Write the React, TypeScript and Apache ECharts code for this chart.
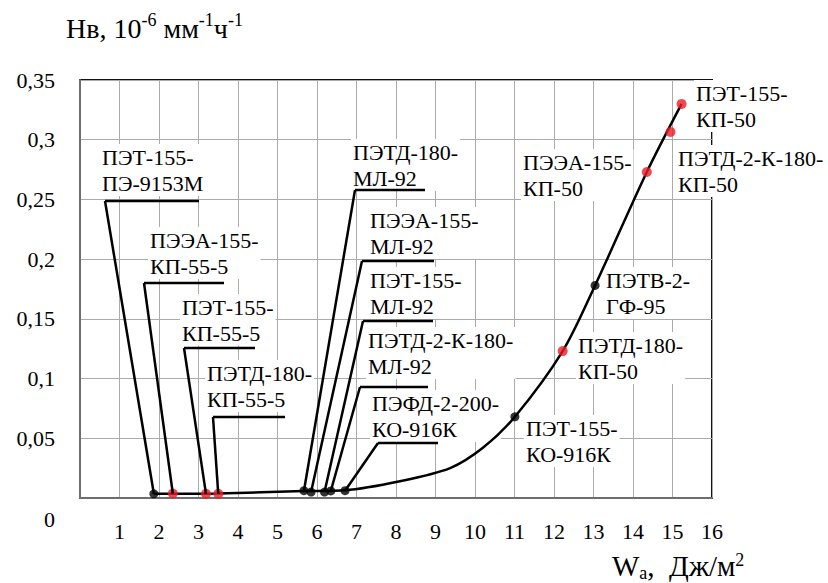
import React, { useEffect, useRef } from "react";
import * as echarts from "echarts";

const FONT = "Liberation Serif, serif";

// Smooth trend curve
const curveX = [1.87, 3.5, 5.67, 6.71, 8.1, 9.37, 10.2, 11.01, 12.22, 13.04, 14.35, 15.23];
const curveY = [0.0035, 0.0038, 0.0058, 0.0065, 0.014, 0.025, 0.042, 0.068, 0.123, 0.178, 0.273, 0.33];

// Black points
const blackX = [1.87, 5.67, 5.85, 6.19, 6.35, 6.71, 11.01, 13.04];
const blackY = [0.0035, 0.0061, 0.005, 0.005, 0.0059, 0.0061, 0.068, 0.178];

// Red points
const redX = [2.35, 3.19, 3.5, 12.22, 14.35, 14.95, 15.23];
const redY = [0.0038, 0.0035, 0.0035, 0.123, 0.273, 0.3065, 0.33];

const xTickMin = 0;
const xTickMax = 16;
const yTickMin = 0;
const yTickMax = 0.35;
const yStep = 0.05;

// Annotation texts, with the point they refer to (series, index)
const leaderLabels: { lines: string[]; set: "b" | "r"; idx: number }[] = [
  { lines: ["ПЭТ-155-", "ПЭ-9153М"], set: "b", idx: 0 },
  { lines: ["ПЭЭА-155-", "КП-55-5"], set: "r", idx: 0 },
  { lines: ["ПЭТ-155-", "КП-55-5"], set: "r", idx: 1 },
  { lines: ["ПЭТД-180-", "КП-55-5"], set: "r", idx: 2 },
  { lines: ["ПЭТД-180-", "МЛ-92"], set: "b", idx: 1 },
  { lines: ["ПЭЭА-155-", "МЛ-92"], set: "b", idx: 2 },
  { lines: ["ПЭТ-155-", "МЛ-92"], set: "b", idx: 3 },
  { lines: ["ПЭТД-2-К-180-", "МЛ-92"], set: "b", idx: 4 },
  { lines: ["ПЭФД-2-200-", "КО-916К"], set: "b", idx: 5 },
];
// layout (pixels): text left, first line centre, underline left, underline y, underline length
const leaderLayout = [
  [102, 157, 105, 201, 94],
  [150, 240, 144, 283, 80],
  [182, 307, 184, 348, 71],
  [207, 373, 213, 417, 72],
  [353, 152, 355, 190, 70],
  [370, 220, 362, 261, 72],
  [370, 280, 363, 321, 70],
  [368, 340, 360, 387, 68],
  [372, 403, 378, 443, 60],
];

const plainLabels = [
  ["ПЭТ-155-", "КП-50"],
  ["ПЭТД-2-К-180-", "КП-50"],
  ["ПЭЭА-155-", "КП-50"],
  ["ПЭТВ-2-", "ГФ-95"],
  ["ПЭТД-180-", "КП-50"],
  ["ПЭТ-155-", "КО-916К"],
];
const plainLayout = [
  [696, 93],
  [678, 158],
  [523, 162],
  [606, 280],
  [578, 345],
  [526, 428],
];

export default function App() {
  const ref = useRef<HTMLDivElement>(null);
  useEffect(() => {
    const chart = echarts.init(ref.current!, null, { renderer: "svg" });
    const curve = curveX.map((x, i) => [x, curveY[i]]);
    const black = blackX.map((x, i) => [x, blackY[i]]);
    const red = redX.map((x, i) => [x, redY[i]]);
    chart.setOption({
      animation: false,
      backgroundColor: "#fff",
      textStyle: { fontFamily: FONT },
      grid: {
        left: 80,
        top: 80,
        right: 116,
        bottom: 85,
        show: true,
        borderColor: "#111",
        borderWidth: 2,
        backgroundColor: "transparent",
      },
      xAxis: {
        type: "value",
        min: xTickMin,
        max: xTickMax,
        interval: 1,
        splitLine: { show: true, lineStyle: { color: "#ababab", width: 1 } },
        axisLine: { show: true, onZero: false, lineStyle: { color: "#6e6e6e", width: 2 } },
        axisTick: { show: false },
        axisLabel: {
          margin: 22,
          fontSize: 22,
          fontFamily: FONT,
          color: "#000",
          formatter: (v: number) => (v === 0 ? "" : String(v)),
        },
      },
      yAxis: {
        type: "value",
        min: yTickMin,
        max: yTickMax,
        interval: yStep,
        splitLine: { show: true, lineStyle: { color: "#ababab", width: 1 } },
        axisLine: { show: true, onZero: false, lineStyle: { color: "#6e6e6e", width: 2 } },
        axisTick: { show: false },
        axisLabel: {
          margin: 25,
          fontSize: 22,
          fontFamily: FONT,
          color: "#000",
          formatter: (v: number) =>
            v === 0 ? "" : String(Number(v.toFixed(2))).replace(".", ","),
        },
      },
      series: [
        {
          type: "line",
          data: curve,
          smooth: 0.3,
          showSymbol: false,
          lineStyle: { color: "#000", width: 2.5 },
          z: 3,
        },
        {
          type: "scatter",
          data: black,
          symbolSize: 9,
          itemStyle: { color: "#000" },
          z: 4,
        },
        {
          type: "scatter",
          data: red,
          symbolSize: 10,
          itemStyle: { color: "#ee1c25" },
          z: 5,
        },
      ],
    });

    const toPx = (p: number[]) => chart.convertToPixel({ gridIndex: 0 }, p) as number[];
    const LH = 26;
    const textEl = (lines: string[], x: number, yc: number) => ({
      type: "text",
      x: x - 2,
      y: yc - LH / 2,
      z: 1,
      style: {
        text: lines.join("\n"),
        fontSize: 22,
        fontFamily: FONT,
        lineHeight: LH,
        fill: "#000",
        backgroundColor: "#fff",
        padding: [0, 2],
        align: "left",
        verticalAlign: "top",
      },
    });
    const lineEl = (x1: number, y1: number, x2: number, y2: number) => ({
      type: "line",
      z: 21,
      shape: { x1, y1, x2, y2 },
      style: { stroke: "#000", lineWidth: 2.5 },
    });

    const graphics: any[] = [];
    leaderLabels.forEach((a, i) => {
      const [tx, ty, ux, uy, ul] = leaderLayout[i];
      const pt = toPx(a.set === "b" ? black[a.idx] : red[a.idx]);
      graphics.push(textEl(a.lines, tx, ty));
      graphics.push(lineEl(ux, uy, ux + ul, uy));
      graphics.push(lineEl(ux, uy, pt[0], pt[1]));
    });
    plainLabels.forEach((l, i) => {
      const [tx, ty] = plainLayout[i];
      graphics.push(textEl(l, tx, ty));
    });
    // zero label of the value axis, placed below the corner
    graphics.push({
      type: "text",
      x: 55,
      y: 519,
      z: 20,
      style: {
        text: "0",
        fontSize: 22,
        fontFamily: FONT,
        fill: "#000",
        align: "right",
        verticalAlign: "middle",
      },
    });
    // y-axis title
    graphics.push({
      type: "text",
      x: 66,
      y: 11,
      z: 20,
      style: {
        text: "{a|Нв, 10}{s|-6}{a| мм}{s|-1}{a|ч}{s|-1}",
        fill: "#000",
        fontFamily: FONT,
        align: "left",
        verticalAlign: "top",
        rich: {
          a: { fontSize: 28, fontFamily: FONT, lineHeight: 31, verticalAlign: "bottom", fill: "#000" },
          s: { fontSize: 18, fontFamily: FONT, lineHeight: 16, verticalAlign: "top", fill: "#000" },
        },
      },
    });
    // x-axis title
    graphics.push({
      type: "text",
      x: 612,
      y: 551,
      z: 20,
      style: {
        text: "{a|W}{b|a}{a|,  Дж/м}{s|2}",
        fill: "#000",
        fontFamily: FONT,
        align: "left",
        verticalAlign: "top",
        rich: {
          a: { fontSize: 29, fontFamily: FONT, lineHeight: 31, verticalAlign: "top", fill: "#000" },
          b: { fontSize: 18, fontFamily: FONT, lineHeight: 17, verticalAlign: "bottom", fill: "#000" },
          s: { fontSize: 18, fontFamily: FONT, lineHeight: 17, verticalAlign: "top", fill: "#000" },
        },
      },
    });
    chart.setOption({ graphic: graphics });

    return () => chart.dispose();
  }, []);
  return (
    <div
      ref={ref}
      style={{ position: "absolute", left: 0, top: 0, width: 828, height: 583 }}
    />
  );
}
